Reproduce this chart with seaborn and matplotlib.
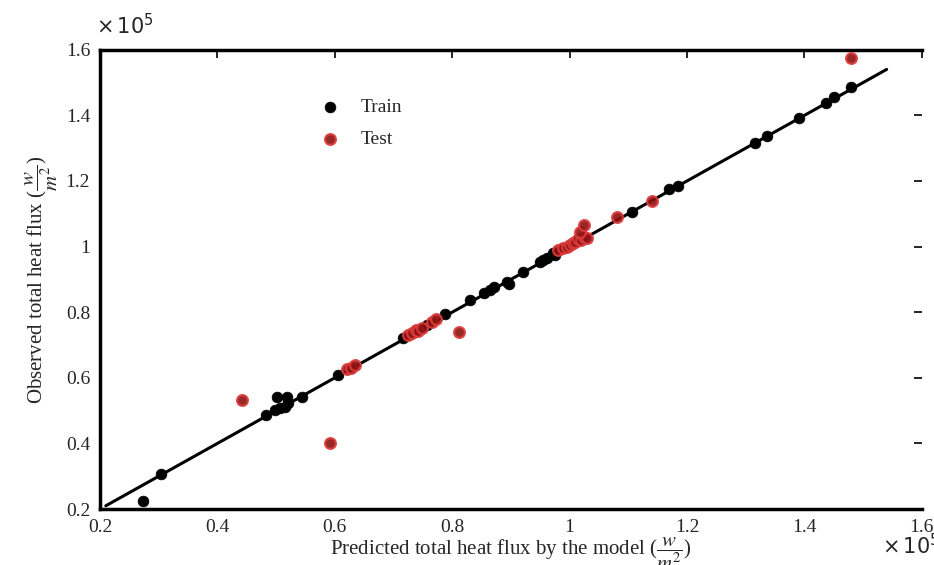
import numpy as np
import pandas as pd
import matplotlib
matplotlib.use("Agg")
import matplotlib.pyplot as plt
from matplotlib.ticker import FuncFormatter, MultipleLocator
import seaborn as sns

# values in units of 1e5 W/m^2
train_pred = [0.273, 0.304, 0.483, 0.498, 0.501, 0.506, 0.515, 0.518, 0.520, 0.544,
              0.605, 0.716, 0.745, 0.757, 0.787, 0.830, 0.855, 0.865, 0.872, 0.894,
              0.897, 0.920, 0.949, 0.955, 0.962, 0.971, 0.975, 1.107, 1.170, 1.184,
              1.315, 1.337, 1.390, 1.437, 1.451, 1.480]
train_obs = [0.225, 0.307, 0.487, 0.502, 0.541, 0.508, 0.511, 0.541, 0.523, 0.541,
             0.609, 0.721, 0.750, 0.761, 0.795, 0.838, 0.859, 0.868, 0.877, 0.892,
             0.885, 0.922, 0.953, 0.958, 0.965, 0.980, 0.975, 1.105, 1.175, 1.185,
             1.316, 1.337, 1.392, 1.438, 1.456, 1.487]

test_pred = [0.442, 0.592, 0.620, 0.627, 0.634, 0.725, 0.732, 0.738, 0.742, 0.748,
             0.765, 0.772, 0.811, 0.980, 0.988, 0.995, 1.000, 1.005, 1.010, 1.015,
             1.020, 1.025, 1.030, 1.017, 1.025, 1.080, 1.140, 1.480]
test_obs = [0.532, 0.401, 0.627, 0.630, 0.639, 0.730, 0.738, 0.745, 0.742, 0.752,
            0.770, 0.778, 0.740, 0.990, 0.995, 1.000, 1.005, 1.010, 1.015, 1.022,
            1.020, 1.028, 1.025, 1.045, 1.066, 1.090, 1.140, 1.575]

fit_x = [0.21, 1.54]
fit_y = [0.21, 1.54]

df = pd.DataFrame({
    "pred": train_pred + test_pred,
    "obs": train_obs + test_obs,
    "set": ["Train"] * len(train_pred) + ["Test"] * len(test_pred),
})

sns.set_style("white")
plt.rcParams["font.family"] = ["Liberation Serif", "DejaVu Serif"]
plt.rcParams["mathtext.fontset"] = "stix"

fig = plt.figure(figsize=(9.34, 5.65), dpi=100)
ax = fig.add_axes([0.107, 0.099, 0.880, 0.813])

ax.plot(fit_x, fit_y, color="black", lw=2.2, zorder=1)

sns.scatterplot(data=df[df["set"] == "Train"], x="pred", y="obs", color="black",
                s=60, edgecolor="black", linewidth=0.5, label="Train", ax=ax, zorder=2)
sns.scatterplot(data=df[df["set"] == "Test"], x="pred", y="obs", color="#8e1212",
                s=60, edgecolor="#dc3b3b", linewidth=1.6, alpha=0.9, label="Test",
                ax=ax, zorder=3)

ax.set_xlim(0.2, 1.6)
ax.set_ylim(0.2, 1.6)
ax.xaxis.set_major_locator(MultipleLocator(0.2))
ax.yaxis.set_major_locator(MultipleLocator(0.2))
fmt = FuncFormatter(lambda v, p: f"{v:g}")
ax.xaxis.set_major_formatter(fmt)
ax.yaxis.set_major_formatter(fmt)
ax.tick_params(direction="in", length=6, width=1.2, labelsize=14,
               top=True, right=True, color="black", pad=7)

for side in ["left", "bottom", "top"]:
    ax.spines[side].set_linewidth(2.5)
    ax.spines[side].set_color("black")
ax.spines["right"].set_visible(False)

ax.set_xlabel(r"Predicted total heat flux by the model ($\dfrac{w}{m^2}$)", fontsize=15, labelpad=0)
ax.set_ylabel(r"Observed total heat flux ($\dfrac{w}{m^2}$)", fontsize=15, labelpad=4)

handles, labels = ax.get_legend_handles_labels()
ax.legend(handles, labels, loc="center left", bbox_to_anchor=(0.235, 0.84),
          frameon=False, fontsize=14, handletextpad=0.6, labelspacing=0.7)

fig.text(0.134, 0.955, r"$\times\,10^5$", fontsize=15, ha="center", va="center",
         family="DejaVu Sans", math_fontfamily="dejavusans")
fig.text(0.975, 0.035, r"$\times\,10^5$", fontsize=15, ha="center", va="center",
         family="DejaVu Sans", math_fontfamily="dejavusans")

fig.savefig("out.png", dpi=100, facecolor="white")
